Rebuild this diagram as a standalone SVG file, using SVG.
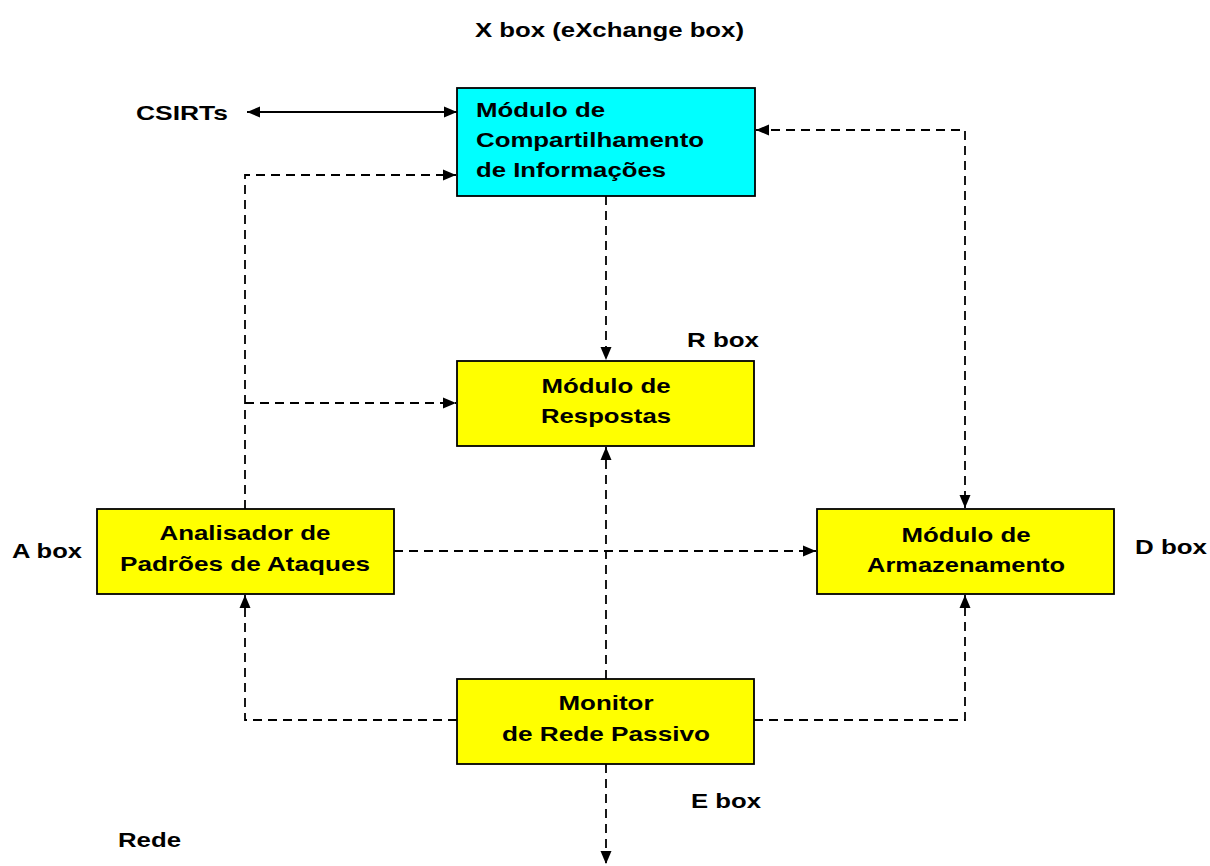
<svg xmlns="http://www.w3.org/2000/svg" width="1210" height="866" viewBox="0 0 1210 866">
<style>
text{font-family:"Liberation Sans",Arial,sans-serif;font-weight:bold;font-size:21px;fill:#000}
.c{text-anchor:middle}
.box{stroke:#000;stroke-width:1.8}
.y{fill:#ffff00}
.cy{fill:#00ffff}
.ln{fill:none;stroke:#000;stroke-width:1.8}
.d{stroke-dasharray:9 6}
</style>
<defs>
<marker id="ah" markerUnits="userSpaceOnUse" markerWidth="14" markerHeight="12" refX="13" refY="6" orient="auto-start-reverse">
<path d="M0,0.5 L13,6 L0,11.5 Z" fill="#000"/>
</marker>
</defs>
<rect width="1210" height="866" fill="#fff"/>
<text x="475" y="37" textLength="269" lengthAdjust="spacingAndGlyphs">X box (eXchange box)</text>
<text x="136" y="120" textLength="92" lengthAdjust="spacingAndGlyphs">CSIRTs</text>
<text x="687" y="347" textLength="72" lengthAdjust="spacingAndGlyphs">R box</text>
<text x="12" y="558" textLength="70" lengthAdjust="spacingAndGlyphs">A box</text>
<text x="1135" y="554" textLength="72" lengthAdjust="spacingAndGlyphs">D box</text>
<text x="691" y="808" textLength="70" lengthAdjust="spacingAndGlyphs">E box</text>
<text x="118" y="847" textLength="63" lengthAdjust="spacingAndGlyphs">Rede</text>
<g id="connectors">
<line class="ln" x1="247" y1="112" x2="457" y2="112" marker-start="url(#ah)" marker-end="url(#ah)"/>
<polyline class="ln d" points="245,509 245,175 456,175" marker-end="url(#ah)"/>
<line class="ln d" x1="245" y1="403" x2="456" y2="403" marker-end="url(#ah)"/>
<line class="ln d" x1="606" y1="196" x2="606" y2="360" marker-end="url(#ah)"/>
<polyline class="ln d" points="756,130 965,130 965,508" marker-start="url(#ah)" marker-end="url(#ah)"/>
<line class="ln d" x1="394" y1="551" x2="816" y2="551" marker-end="url(#ah)"/>
<line class="ln d" x1="606" y1="679" x2="606" y2="447" marker-end="url(#ah)"/>
<polyline class="ln d" points="457,720 245,720 245,595" marker-end="url(#ah)"/>
<polyline class="ln d" points="754,720 965,720 965,595" marker-end="url(#ah)"/>
<line class="ln d" x1="606" y1="764" x2="606" y2="864" marker-end="url(#ah)"/>
</g>
<g id="node-compartilhamento">
<rect class="box cy" x="457" y="88" width="298" height="108"/>
<text x="476" y="117" textLength="129" lengthAdjust="spacingAndGlyphs">Módulo de</text>
<text x="476" y="147" textLength="228" lengthAdjust="spacingAndGlyphs">Compartilhamento</text>
<text x="476" y="177" textLength="190" lengthAdjust="spacingAndGlyphs">de Informações</text>
</g>
<g id="node-respostas">
<rect class="box y" x="457" y="361" width="297" height="85"/>
<text class="c" x="606" y="393" textLength="129" lengthAdjust="spacingAndGlyphs">Módulo de</text>
<text class="c" x="606" y="423" textLength="130" lengthAdjust="spacingAndGlyphs">Respostas</text>
</g>
<g id="node-analisador">
<rect class="box y" x="97" y="509" width="297" height="85"/>
<text class="c" x="245" y="540" textLength="171" lengthAdjust="spacingAndGlyphs">Analisador de</text>
<text class="c" x="245" y="571" textLength="250" lengthAdjust="spacingAndGlyphs">Padrões de Ataques</text>
</g>
<g id="node-armazenamento">
<rect class="box y" x="817" y="509" width="297" height="85"/>
<text class="c" x="966" y="542" textLength="129" lengthAdjust="spacingAndGlyphs">Módulo de</text>
<text class="c" x="966" y="572" textLength="198" lengthAdjust="spacingAndGlyphs">Armazenamento</text>
</g>
<g id="node-monitor">
<rect class="box y" x="457" y="679" width="297" height="85"/>
<text class="c" x="606" y="710" textLength="95" lengthAdjust="spacingAndGlyphs">Monitor</text>
<text class="c" x="606" y="741" textLength="208" lengthAdjust="spacingAndGlyphs">de Rede Passivo</text>
</g>
</svg>
